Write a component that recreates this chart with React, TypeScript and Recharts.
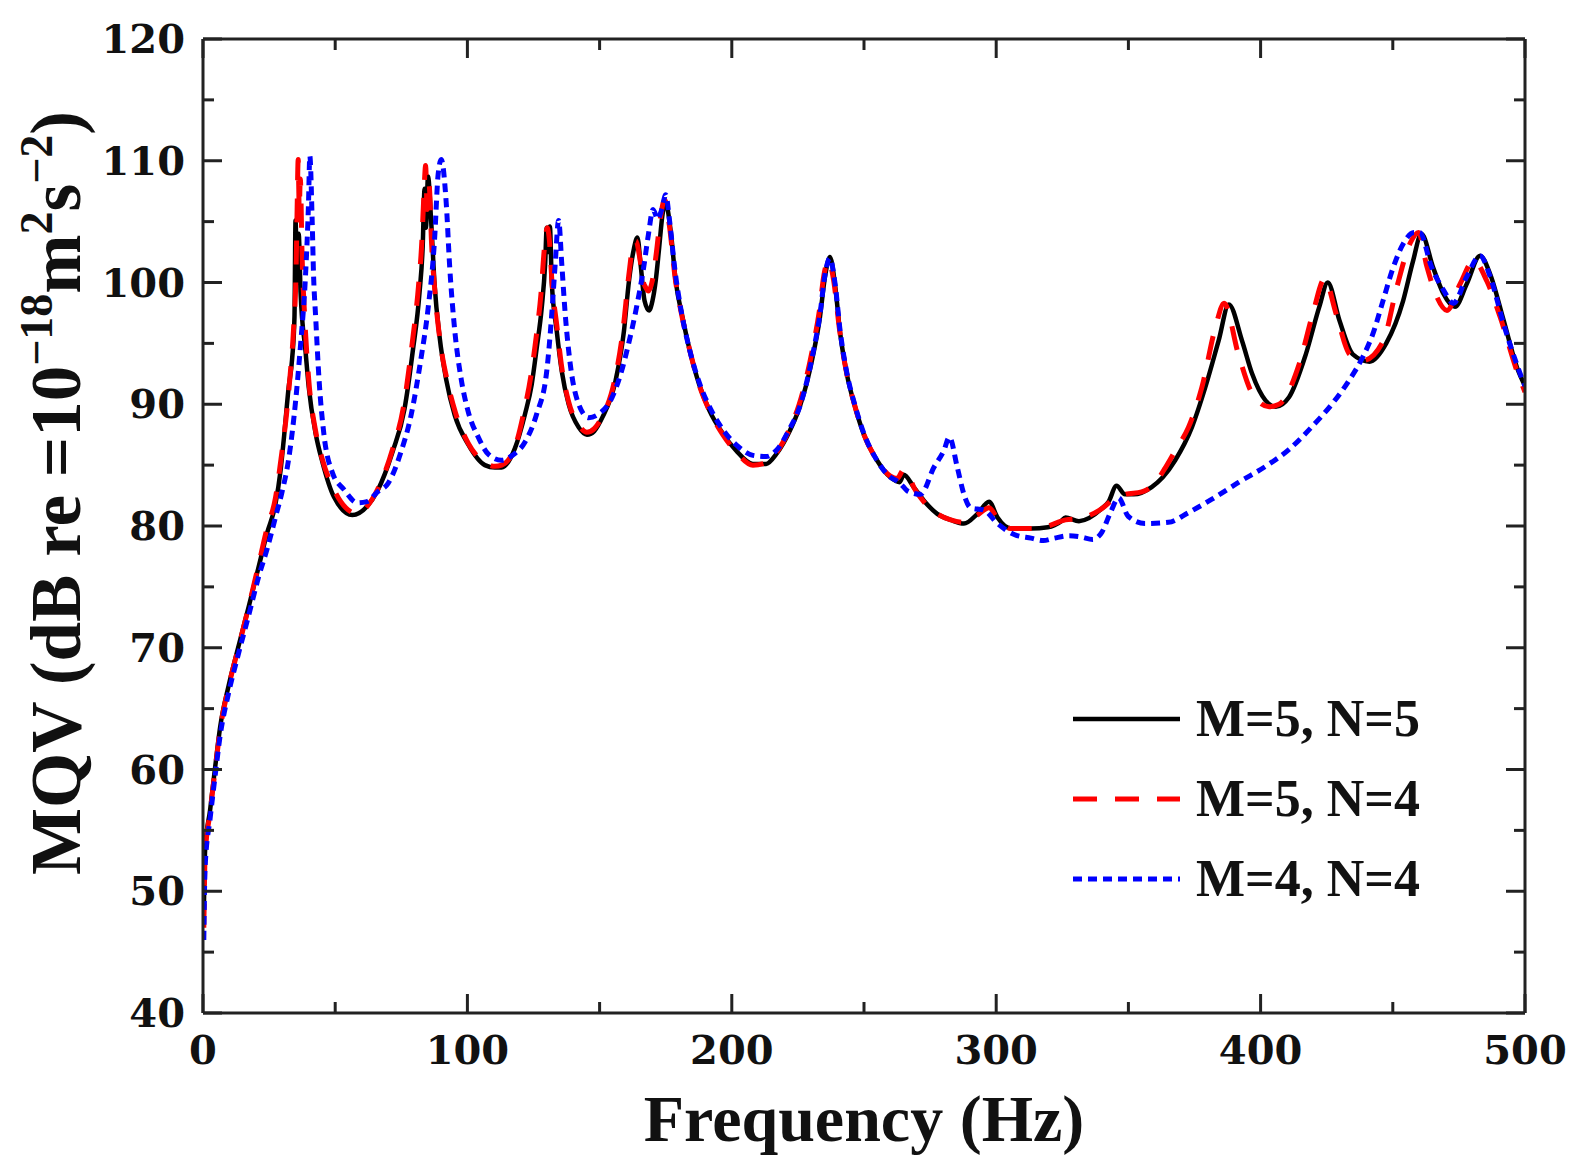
import { LineChart, Line, XAxis, YAxis, Legend } from 'recharts'

// frequency (Hz), level (dB)
const freqM5N5 = [0.3, 0.8, 2.7, 4.6, 6.5, 9.6, 13.4, 17.2, 21, 24.2, 27.4, 29.3, 30.5, 32.4, 33.7, 34.6, 35, 35.6, 36.2, 36.9, 38.8, 40, 42.6, 45.1, 49.5, 56.5, 62, 66, 71.7, 76.2, 79.3, 81.9, 83.1, 83.8, 84.3, 85.1, 86.3, 87.6, 89.5, 92, 95.2, 100.3, 106.6, 110.4, 112.9, 118, 121.8, 124.3, 126.2, 128.1, 129.4, 130, 130.6, 131.2, 131.9, 133.8, 135.7, 138.3, 142.1, 145.2, 148, 151, 156, 159.2, 161.1, 163, 164.3, 165.5, 167, 168.7, 170, 171.2, 172.5, 173.8, 175, 176.9, 178.8, 181.4, 183.9, 187.7, 191.5, 196.6, 201.6, 208, 213, 216.8, 221.9, 225.7, 228.3, 230.8, 233.3, 235.2, 237.1, 239, 241, 243.5, 246.6, 249.8, 254.9, 260, 263.5, 265, 268.8, 272.6, 277.7, 282.8, 287.8, 292.9, 297.3, 300.5, 305.6, 313.2, 319.5, 324.6, 326.2, 331.3, 339.8, 342.5, 345.5, 348.7, 352, 358.8, 363, 367.7, 374, 379.1, 384.1, 388, 393, 396.8, 401.9, 405.7, 410.8, 417.1, 422.2, 425.4, 429.8, 434.9, 441.2, 447.5, 453.9, 457.7, 460.8, 465.3, 469.1, 473.5, 478, 483, 486.8, 491.9, 497, 500]
const dbM5N5 = [48, 53.4, 56.7, 60.2, 63.5, 66.8, 70.1, 73.3, 76.6, 79.4, 81.8, 84.5, 87, 91.4, 93.7, 97.2, 105.1, 100, 104, 99.2, 94.3, 91.4, 87.6, 85.3, 82.4, 80.9, 81.6, 82.9, 86.1, 89.6, 94.3, 99.2, 103, 107.7, 104.5, 108.7, 105, 99.8, 95.5, 92, 89.1, 86.7, 85, 84.8, 84.8, 86.4, 89.2, 91.6, 94.6, 97.9, 101.5, 104.5, 102.5, 104.6, 100.1, 96, 92.7, 90, 88.1, 87.5, 87.8, 88.9, 91.9, 96, 100.1, 102.8, 103.7, 101.5, 98.5, 97.7, 98.5, 100.1, 102.8, 105.6, 106.5, 104.2, 100.1, 97.1, 94.6, 91.6, 89.5, 87.6, 86.2, 85.1, 85.1, 85.9, 87.8, 89.8, 91.7, 94.1, 97.1, 100.4, 102.1, 99.9, 95.8, 92.5, 89.8, 87.6, 85.4, 84, 83.6, 84.2, 83.2, 82.1, 81, 80.5, 80.2, 81, 82, 80.7, 79.8, 79.8, 79.9, 80.4, 80.7, 80.4, 81.4, 82, 83.3, 82.6, 82.6, 83.2, 84, 85.4, 88.1, 91.4, 95.2, 98.2, 95.2, 92.5, 90.3, 89.8, 90.6, 94.1, 98, 100, 96.9, 94.1, 93.5, 95, 98.5, 101.8, 104, 101.2, 99.1, 98, 99.9, 102.2, 100.7, 96.9, 93, 91.5]

const freqM5N4 = [0.3, 0.8, 2.7, 4.6, 6.5, 9.6, 13.4, 17.2, 21, 24.2, 27.4, 29.5, 31.5, 33, 34.2, 35.2, 35.6, 36, 36.4, 36.8, 37.5, 38.5, 40, 42.6, 45.1, 49.5, 54, 58.4, 62, 66, 71.7, 76, 79, 81.5, 82.8, 83.5, 84.2, 84.8, 85.5, 86.5, 87.8, 89.8, 92.3, 95.5, 100.3, 106.6, 110.4, 113, 118, 121.5, 124, 126, 127.8, 129.2, 130.2, 131, 132, 133.8, 135.7, 138.3, 142.1, 145.2, 148, 151, 155.5, 158.8, 161, 162.6, 163.8, 165.2, 166.6, 167.4, 168.5, 170, 171.5, 173, 174.6, 176.5, 178.5, 181, 183.7, 187.5, 191.5, 196.6, 201.6, 208, 213, 216.8, 221.9, 225.5, 228, 230.5, 233, 235, 236.6, 238.5, 240.7, 243.3, 246.5, 249.8, 254.9, 260, 262.5, 265, 266.5, 268.8, 272.6, 277.7, 282.8, 287.8, 292.9, 297.3, 300.5, 305.6, 313.2, 319.5, 326.2, 331.3, 339.8, 345, 348.7, 355, 360, 364, 368, 372.7, 377.8, 383, 386.2, 391.6, 396.8, 403.2, 407, 414.6, 419.7, 424.2, 428.6, 433.7, 438.8, 446.4, 451.5, 456.5, 459.7, 462.9, 466.7, 470.5, 475.5, 480.6, 485.6, 490.7, 497, 500]
const dbM5N4 = [47, 53, 56.5, 60, 63.3, 66.7, 70, 73.3, 76.8, 79.8, 82.3, 85.5, 89, 92.5, 96, 101, 106, 110.1, 106, 108.5, 102, 97, 92, 87.8, 85.5, 83, 81.5, 81, 81.6, 83, 86.3, 90, 94.8, 99.7, 103.5, 107, 109.6, 106, 108, 103, 99, 95, 92, 89.3, 86.8, 85.2, 84.9, 85, 86.5, 89.5, 92.3, 95.5, 99, 103, 104.5, 103.5, 100, 96.5, 93, 90.2, 88.3, 87.7, 88, 89, 91.8, 96, 100.5, 103, 103.4, 102, 100, 99.6, 99.3, 100.2, 102.5, 105.3, 106.8, 104.5, 100.5, 97.4, 94.8, 91.7, 89.5, 87.5, 86.1, 85, 85.2, 86, 88, 90, 92, 94.5, 97.5, 100.8, 101.8, 100.2, 96.2, 92.7, 89.9, 87.6, 85.4, 84.1, 83.9, 84.6, 84.3, 83.2, 82, 81, 80.5, 80.3, 80.9, 81.5, 80.6, 79.8, 79.8, 80, 80.5, 80.6, 81.4, 82.3, 82.6, 82.8, 83.5, 84.8, 86.3, 88.1, 91.4, 96.4, 98.3, 94.1, 90.9, 89.8, 90, 93.3, 97.4, 100.3, 97.4, 94.1, 93.6, 95.2, 99.6, 103.2, 104.1, 101.3, 98.8, 97.7, 99.9, 101.8, 100.1, 97.1, 92.7, 91]

const freqM4N4 = [0.3, 0.8, 2.7, 4.6, 6.5, 9.6, 13.4, 17.2, 21, 24.5, 27.5, 29.9, 32.4, 35, 36.9, 38.8, 39.9, 40.4, 41.3, 41.8, 42.6, 43.9, 45.7, 48.9, 53.3, 58.4, 62, 66, 70, 74.9, 78.6, 82.4, 85.1, 87.6, 88.9, 90.1, 92, 93.3, 95.2, 97.7, 100.3, 104.1, 107.9, 112.9, 117, 121.8, 126.2, 130, 131.9, 133.2, 134.5, 135.7, 137, 138.9, 142.1, 145.9, 149.7, 154.8, 158, 161, 164, 166.5, 168.5, 170.2, 172, 173.5, 175, 176.5, 178.5, 181, 184, 188, 192, 197, 202, 208, 213, 216.8, 221.9, 225.7, 228.3, 230.8, 233.3, 235.2, 237.1, 239, 241, 243.5, 246.6, 249.8, 254.9, 260, 262.5, 265, 266.3, 271.4, 276.4, 280.2, 282.3, 285.3, 287.8, 290.3, 295.4, 300.5, 306.8, 313.2, 317.8, 322, 327.7, 332, 336.5, 340, 343.2, 346.3, 349.9, 356.3, 365.1, 372.7, 381.6, 391.8, 401.9, 410.8, 419.6, 427.3, 433.6, 438.7, 442.5, 446.3, 450.1, 454, 458, 460.2, 464.6, 469.1, 472.9, 478, 483, 486.8, 491.9, 498.2, 500]
const dbM4N4 = [46, 52, 56, 59.5, 62.8, 66.2, 69.5, 72.6, 75.8, 78.3, 80.8, 82.8, 85.5, 90.2, 94.9, 100.7, 106.5, 110.4, 105, 100.7, 97.2, 92, 87.6, 84.4, 83, 81.9, 82, 82.8, 83.5, 86.1, 89, 93.7, 97.8, 103.6, 108.8, 110.1, 106.5, 101.3, 96.1, 92, 89.4, 87.3, 85.9, 85.4, 85.8, 86.9, 89.2, 92.7, 97.4, 101.5, 105.1, 101.5, 97.4, 93.3, 90, 88.9, 89.2, 90.6, 92.5, 95, 98, 101, 104, 106, 105.2, 106, 107.2, 105, 101, 97.5, 94.5, 91.6, 89.6, 87.8, 86.6, 85.8, 85.7, 86.2, 88, 89.8, 91.8, 94.3, 97.3, 100.6, 102, 100, 96, 92.6, 89.9, 87.7, 85.4, 84, 83.7, 83.2, 82.9, 82.6, 84.8, 86.2, 87.3, 84.8, 82.6, 81.5, 81.3, 80.2, 79.3, 79, 78.8, 79, 79.2, 79.1, 78.9, 79.5, 81.1, 82.3, 80.8, 80.2, 80.3, 81.1, 82.2, 83.6, 84.9, 86.3, 88.2, 90.1, 92, 93.9, 95.8, 98.5, 101.2, 103.2, 104.1, 104.1, 101.3, 99.4, 98.3, 100.5, 102.2, 100.5, 96.6, 92.5, 91.5]

const seriesNames = ['M=5, N=5', 'M=5, N=4', 'M=4, N=4']
const xTicks = [0, 50, 100, 150, 200, 250, 300, 350, 400, 450, 500]
const yTicks = [40, 45, 50, 55, 60, 65, 70, 75, 80, 85, 90, 95, 100, 105, 110, 115, 120]

const toPoints = (f: number[], db: number[]) => f.map((v, i) => ({ f: v, db: db[i] }))

// the last series is plotted against the top/right axes (same domains) so those axes draw
const SERIES = [
  { name: seriesNames[0], data: toPoints(freqM5N5, dbM5N5), color: '#000000', dash: undefined as string | undefined, width: 4.5, xId: 'bottom', yId: 'left' },
  { name: seriesNames[1], data: toPoints(freqM5N4, dbM5N4), color: '#ff0000', dash: '24 18', width: 5, xId: 'bottom', yId: 'left' },
  { name: seriesNames[2], data: toPoints(freqM4N4, dbM4N4), color: '#0000ff', dash: '9 6', width: 5, xId: 'top', yId: 'right' },
]

const FRAME = '#222'
const TICK_FONT = { fontFamily: 'DejaVu Serif', fontWeight: 700, fontSize: 40, fill: '#111' }
const TITLE_FONT = { fontFamily: 'Liberation Serif', fontWeight: 700, fill: '#111' }

// inward ticks, long for labelled values and short for the halves
const tickLen = (v: number, step: number) => (v % step === 0 ? 19 : 11)

function BottomTick(p: any) {
  const v = p.payload.value
  const len = tickLen(v, 100)
  return (
    <g>
      <line x1={p.x} x2={p.x} y1={p.y} y2={p.y - len} stroke={FRAME} strokeWidth={3} />
      {v % 100 === 0 && (
        <text x={p.x} y={p.y + 51} textAnchor="middle" {...TICK_FONT}>{v}</text>
      )}
    </g>
  )
}

function TopTick(p: any) {
  const len = tickLen(p.payload.value, 100)
  return <line x1={p.x} x2={p.x} y1={p.y} y2={p.y + len} stroke={FRAME} strokeWidth={3} />
}

function LeftTick(p: any) {
  const v = p.payload.value
  const len = tickLen(v, 10)
  return (
    <g>
      <line x1={p.x} x2={p.x + len} y1={p.y} y2={p.y} stroke={FRAME} strokeWidth={3} />
      {v % 10 === 0 && (
        <text x={p.x - 18} y={p.y + 14} textAnchor="end" {...TICK_FONT}>{v}</text>
      )}
    </g>
  )
}

function RightTick(p: any) {
  const len = tickLen(p.payload.value, 10)
  return <line x1={p.x} x2={p.x - len} y1={p.y} y2={p.y} stroke={FRAME} strokeWidth={3} />
}

function XTitle(p: any) {
  const { x, y, width } = p.viewBox
  return (
    <text x={x + width / 2} y={y + 128} textAnchor="middle" fontSize={66} {...TITLE_FONT}>
      Frequency (Hz)
    </text>
  )
}

function YTitle(p: any) {
  const { y, height } = p.viewBox
  const cx = 80
  const cy = y + height / 2 - 33
  const sup = 46
  return (
    <text x={cx} y={cy} transform={`rotate(-90, ${cx}, ${cy})`} textAnchor="middle" fontSize={71} {...TITLE_FONT}>
      <tspan>MQV (dB re =10</tspan>
      <tspan dy={-28} fontSize={sup}>−18</tspan>
      <tspan dy={28}>m</tspan>
      <tspan dy={-28} fontSize={sup}>2</tspan>
      <tspan dy={28}>s</tspan>
      <tspan dy={-28} fontSize={sup}>−2</tspan>
      <tspan dy={28}>)</tspan>
    </text>
  )
}

function LegendBox() {
  return (
    <svg width={420} height={240}>
      {SERIES.map((s, i) => {
        const cy = 39 + i * 80
        return (
          <g key={s.name}>
            <line x1={13} x2={120} y1={cy} y2={cy} stroke={s.color} strokeWidth={s.width} strokeDasharray={s.dash} />
            <text x={136} y={cy + 17} fontSize={52} {...TITLE_FONT}>{s.name}</text>
          </g>
        )
      })}
    </svg>
  )
}

export default function App() {
  return (
    <div style={{ position: 'absolute', left: 0, top: 0, width: 1575, height: 1171, background: '#fff' }}>
      <LineChart width={1575} height={1171} margin={{ top: 38, right: 49, bottom: 0, left: 0 }}>
        <XAxis
          xAxisId="bottom"
          dataKey="f"
          type="number"
          domain={[0, 500]}
          ticks={xTicks}
          interval={0}
          height={158}
          tickSize={0}
          tickMargin={0}
          tickLine={false}
          axisLine={{ stroke: FRAME, strokeWidth: 3 }}
          tick={(p: any) => <BottomTick {...p} />}
          label={{ content: XTitle }}
          allowDataOverflow
        />
        <XAxis
          xAxisId="top"
          orientation="top"
          dataKey="f"
          type="number"
          domain={[0, 500]}
          ticks={xTicks}
          interval={0}
          height={1}
          tickSize={0}
          tickMargin={0}
          tickLine={false}
          axisLine={{ stroke: FRAME, strokeWidth: 3 }}
          tick={(p: any) => <TopTick {...p} />}
          allowDataOverflow
        />
        <YAxis
          yAxisId="left"
          type="number"
          domain={[40, 120]}
          ticks={yTicks}
          interval={0}
          width={203}
          tickSize={0}
          tickMargin={0}
          tickLine={false}
          axisLine={{ stroke: FRAME, strokeWidth: 3 }}
          tick={(p: any) => <LeftTick {...p} />}
          label={{ content: YTitle }}
          allowDataOverflow
        />
        <YAxis
          yAxisId="right"
          orientation="right"
          type="number"
          domain={[40, 120]}
          ticks={yTicks}
          interval={0}
          width={1}
          tickSize={0}
          tickMargin={0}
          tickLine={false}
          axisLine={{ stroke: FRAME, strokeWidth: 3 }}
          tick={(p: any) => <RightTick {...p} />}
          allowDataOverflow
        />
        {SERIES.map((s) => (
          <Line
            key={s.name}
            xAxisId={s.xId}
            yAxisId={s.yId}
            data={s.data}
            dataKey="db"
            name={s.name}
            type="monotone"
            stroke={s.color}
            strokeWidth={s.width}
            strokeDasharray={s.dash}
            dot={false}
            activeDot={false}
            isAnimationActive={false}
          />
        ))}
        <Legend
          layout="vertical"
          align="center"
          verticalAlign="middle"
          content={() => <LegendBox />}
          wrapperStyle={{ position: 'absolute', left: 1060, top: 680, width: 420, height: 240 }}
        />
      </LineChart>
    </div>
  )
}
